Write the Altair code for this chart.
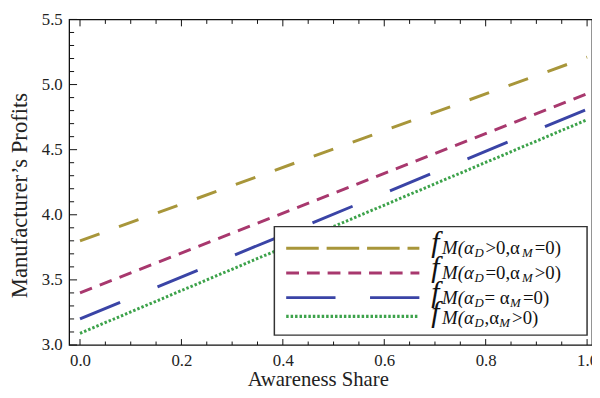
import altair as alt
import pandas as pd

# ---------------- data ----------------
series = ["a", "b", "c", "d"]
x_start = [0.0, 0.0, 0.0, 0.0]
x_end = [1.0, 1.0, 1.0, 1.0]
y_start = [3.80, 3.40, 3.20, 3.09]
y_end = [5.21, 4.93, 4.81, 4.73]

colors = ["#A8963A", "#A8386E", "#3A44A6", "#3CA24A"]
dashes = [[21, 21], [13, 8.5], [44, 41], [2.5, 2]]
legend_dashes = [[33, 8], [13, 8], [50, 35], [2.5, 2]]
widths = [3, 3, 3, 3.5]

x_major = [0.0, 0.2, 0.4, 0.6, 0.8, 1.0]
x_minor = [0.05, 0.1, 0.15, 0.25, 0.3, 0.35, 0.45, 0.5, 0.55, 0.65, 0.7,
           0.75, 0.85, 0.9, 0.95]
y_major = [3.0, 3.5, 4.0, 4.5, 5.0, 5.5]
y_minor = [3.1, 3.2, 3.3, 3.4, 3.6, 3.7, 3.8, 3.9, 4.1, 4.2, 4.3, 4.4,
           4.6, 4.7, 4.8, 4.9, 5.1, 5.2, 5.3, 5.4]

# legend text segments: (row, text, x, kind)  kind: f / main / sub
legend_segments = [
    (0, "f", 367, "f"), (0, "M(α", 378, "main"), (0, "D", 411, "sub"),
    (0, ">0,α", 422, "main"), (0, "M", 459, "sub"), (0, "=0)", 472, "main"),
    (1, "f", 367, "f"), (1, "M(α", 378, "main"), (1, "D", 411, "sub"),
    (1, "=0,α", 422, "main"), (1, "M", 459, "sub"), (1, ">0)", 472, "main"),
    (2, "f", 367, "f"), (2, "M(α", 378, "main"), (2, "D", 411, "sub"),
    (2, "= α", 421, "main"), (2, "M", 447, "sub"), (2, "=0)", 460, "main"),
    (3, "f", 367, "f"), (3, "M(α", 378, "main"), (3, "D", 411, "sub"),
    (3, ",α", 421, "main"), (3, "M", 436, "sub"), (3, ">0)", 449, "main"),
]
legend_row_line_y = [232, 257, 282, 301]
legend_row_base_y = [238, 263, 288, 309]

FONT = "Liberation Serif"
W, H = 530, 330
xscale = alt.Scale(domain=[-0.0214, 1.0097], nice=False, zero=False)
yscale = alt.Scale(domain=[3.0, 5.5], nice=False, zero=False)

xaxis = alt.Axis(values=x_major, format=".1f", ticks=False, domain=False,
                 grid=False, labelFlush=False, labelOverlap=False,
                 labelFont=FONT, labelFontSize=17, labelColor="#222",
                 labelPadding=8, title="Awareness Share",
                 titleFont=FONT, titleFontSize=21, titleFontWeight="normal",
                 titleColor="#222", titleX=252, titleY=41,
                 titleAlign="center", titleBaseline="alphabetic")
yaxis = alt.Axis(values=y_major, format=".1f", ticks=False, domain=False,
                 grid=False, labelFlush=False, labelOverlap=False,
                 labelFont=FONT, labelFontSize=17, labelColor="#222",
                 labelPadding=7, title="Manufacturer’s Profits",
                 titleFont=FONT, titleFontSize=23, titleFontWeight="normal",
                 titleColor="#222", titleX=-50, titleY=178, titleAngle=270,
                 titleAlign="center", titleBaseline="middle")

rows = []
for s, x0, x1, y0, y1 in zip(series, x_start, x_end, y_start, y_end):
    rows.append({"series": s, "x": x0, "y": y0})
    rows.append({"series": s, "x": x1, "y": y1})
df = pd.DataFrame(rows)

lines = alt.Chart(df).mark_line(strokeCap="butt").encode(
    x=alt.X("x:Q", scale=xscale, axis=xaxis),
    y=alt.Y("y:Q", scale=yscale, axis=yaxis),
    color=alt.Color("series:N", scale=alt.Scale(domain=series, range=colors), legend=None),
    strokeDash=alt.StrokeDash("series:N", scale=alt.Scale(domain=series, range=dashes),
                              legend=None),
    strokeWidth=alt.StrokeWidth("series:N", scale=alt.Scale(domain=series, range=widths),
                                legend=None),
    detail="series:N",
)


def xticks(vals, y0, y1):
    return alt.Chart(pd.DataFrame({"x": vals})).mark_rule(color="#111", strokeWidth=1).encode(
        x=alt.X("x:Q", scale=xscale, axis=xaxis), y=alt.value(y0), y2=alt.value(y1))


def yticks(vals, x0, x1):
    return alt.Chart(pd.DataFrame({"y": vals})).mark_rule(color="#111", strokeWidth=1).encode(
        y=alt.Y("y:Q", scale=yscale, axis=yaxis), x=alt.value(x0), x2=alt.value(x1))


ticks = [
    xticks(x_major, H, H - 6), xticks(x_minor, H, H - 3.5),
    xticks(x_major, 0, 7), xticks(x_minor, 0, 4.5),
    yticks(y_major, 0, 8), yticks(y_minor, 0, 5),
]

one = pd.DataFrame({"k": [0]})
legend_box = alt.Chart(one).mark_rect(fill="white", stroke="#333", strokeWidth=1.5).encode(
    x=alt.value(208), x2=alt.value(525), y=alt.value(210), y2=alt.value(320))

legend_lines = []
for i in range(4):
    legend_lines.append(
        alt.Chart(one).mark_rule(color=colors[i], strokeWidth=widths[i],
                                 strokeDash=legend_dashes[i], strokeCap="butt").encode(
            x=alt.value(220), x2=alt.value(355), y=alt.value(legend_row_line_y[i])))

legend_texts = []
for row, txt, px, kind in legend_segments:
    base = legend_row_base_y[row]
    if kind == "f":
        size, py, style = 30, base - 2, "italic"
    elif kind == "main":
        size, py, style = 19, base, "italic" if txt.startswith("M") else "normal"
    else:
        size, py, style = 13, base + 3, "italic"
    legend_texts.append(
        alt.Chart(one).mark_text(text=txt, align="left", baseline="alphabetic", font=FONT,
                                 fontSize=size, fontStyle=style, color="#111").encode(
            x=alt.value(px), y=alt.value(py)))

chart = alt.layer(lines, *ticks, legend_box, *legend_lines, *legend_texts).properties(
    width=W, height=H,
    autosize=alt.AutoSizeParams(type="none"),
    padding={"left": 62, "top": 9, "right": 0, "bottom": 42},
).configure_view(stroke="#111", strokeWidth=1.3)

chart.save("out.html", embed_options={"renderer": "svg", "actions": False})
